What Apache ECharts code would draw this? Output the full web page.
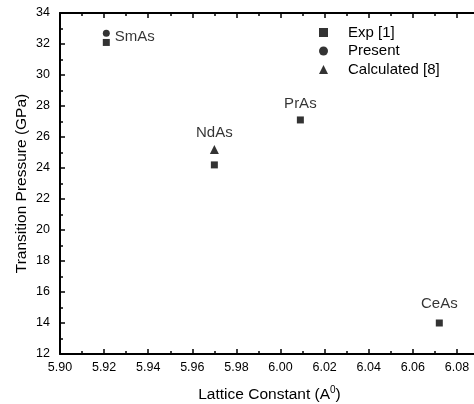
<!DOCTYPE html>
<html>
<head>
<meta charset="utf-8">
<script src="https://cdn.jsdelivr.net/npm/echarts@6/dist/echarts.min.js"></script>
<style>
  html, body { margin: 0; padding: 0; background: #fff; }
  #chart { width: 474px; height: 404px; }
</style>
</head>
<body>
<div id="chart"></div>
<script>
// values
const compounds = ['SmAs', 'NdAs', 'PrAs', 'CeAs']
const latticeExp = [5.921, 5.970, 6.009, 6.072]
const pressureExp = [32.1, 24.2, 27.1, 14.0]
const latticePresent = [5.921]
const pressurePresent = [32.7]
const latticeCalc = [5.970]
const pressureCalc = [25.2]
const xTicks = { min: 5.90, max: 6.09, interval: 0.02 }
const yTicks = { min: 12, max: 34, interval: 2 }

const font = 'Liberation Sans, Arial, sans-serif'

// label placement for each compound (on the Exp series)
const labelPlace = {
  SmAs: { position: 'right', distance: 5, offset: [0, -6] },
  NdAs: { position: 'top', distance: 21 },
  PrAs: { position: 'top', distance: 5 },
  CeAs: { position: 'top', distance: 8 }
}

let chart = echarts.init(document.getElementById('chart'), null, { renderer: 'canvas' })

let expData = latticeExp.map((x, i) => ({
  value: [x, pressureExp[i]],
  name: compounds[i],
  label: Object.assign({ show: true, formatter: compounds[i] }, labelPlace[compounds[i]])
}))

// fresh objects for every axis
function axisStyle (extra) {
  return Object.assign({
    axisLine: { show: true, onZero: false, lineStyle: { color: '#000', width: 2 } },
    axisTick: { show: true, inside: true, length: 5, lineStyle: { color: '#000', width: 1.5 } },
    minorTick: { show: true, splitNumber: 2, length: 3, lineStyle: { color: '#000', width: 1.5 } },
    splitLine: { show: false }
  }, extra)
}

chart.setOption({
  backgroundColor: '#fff',
  animation: false,
  textStyle: { fontFamily: font, color: '#000' },
  grid: { left: 60, top: 13, right: -5, bottom: 50, outerBoundsMode: 'none' },
  legend: {
    orient: 'vertical',
    left: 314,
    top: 20,
    itemWidth: 9,
    itemHeight: 9,
    itemGap: 3.5,
    textStyle: { fontFamily: font, fontSize: 15, color: '#000', padding: [0, 0, 0, 15] },
    data: [
      { name: 'Exp [1]', icon: 'rect' },
      { name: 'Present', icon: 'circle' },
      { name: 'Calculated [8]', icon: 'triangle' }
    ]
  },
  xAxis: [
    axisStyle({
      type: 'value',
      position: 'bottom',
      min: xTicks.min,
      max: xTicks.max,
      interval: xTicks.interval,
      name: 'Lattice Constant (A{sup|0})',
      nameLocation: 'middle',
      nameGap: 31,
      nameTextStyle: {
        fontFamily: font, fontSize: 15.5, color: '#000',
        rich: { sup: { fontSize: 10, verticalAlign: 'top', padding: [0, 0, 9, 0], fontFamily: font, color: '#000' } }
      },
      axisLabel: {
        color: '#000', fontFamily: font, fontSize: 12.5, margin: 7,
        showMaxLabel: false,
        formatter: v => v.toFixed(2)
      }
    }),
    axisStyle({
      type: 'value',
      position: 'top',
      min: xTicks.min,
      max: xTicks.max,
      interval: xTicks.interval,
      axisLabel: { show: false }
    })
  ],
  yAxis: [
    axisStyle({
      type: 'value',
      position: 'left',
      min: yTicks.min,
      max: yTicks.max,
      interval: yTicks.interval,
      name: 'Transition Pressure (GPa)',
      nameLocation: 'middle',
      nameGap: 30,
      nameMoveOverlap: false,
      nameTextStyle: { fontFamily: font, fontSize: 15.5, color: '#000' },
      axisLabel: { color: '#000', fontFamily: font, fontSize: 12.5, margin: 10 }
    }),
    axisStyle({
      type: 'value',
      position: 'right',
      min: yTicks.min,
      max: yTicks.max,
      interval: yTicks.interval,
      axisLabel: { show: false }
    })
  ],
  series: [
    {
      name: 'Exp [1]',
      type: 'scatter',
      symbol: 'rect',
      symbolSize: 7,
      itemStyle: { color: '#000' },
      label: { color: '#000', fontFamily: font, fontSize: 15 },
      data: expData
    },
    {
      name: 'Present',
      type: 'scatter',
      symbol: 'circle',
      symbolSize: 7,
      itemStyle: { color: '#000' },
      data: latticePresent.map((x, i) => [x, pressurePresent[i]])
    },
    {
      name: 'Calculated [8]',
      type: 'scatter',
      symbol: 'triangle',
      symbolSize: 9,
      itemStyle: { color: '#000' },
      data: latticeCalc.map((x, i) => [x, pressureCalc[i]])
    }
  ]
})
</script>
</body>
</html>
